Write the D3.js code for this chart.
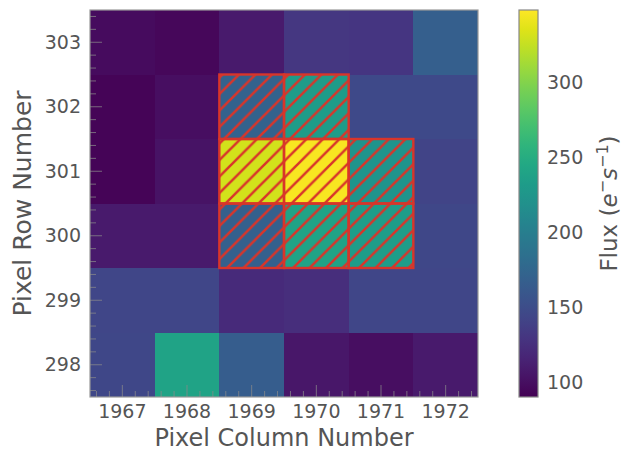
<!DOCTYPE html>
<html>
<head>
<meta charset="utf-8">
<script src="https://cdn.jsdelivr.net/npm/d3@7"></script>
<style>
  html, body { margin: 0; padding: 0; background: #fff; }
  svg { display: block; font-family: "DejaVu Sans", sans-serif; }
</style>
</head>
<body>
<svg id="chart" width="621" height="453"></svg>
<script>
// Pixel grid of a target pixel file: columns, rows and flux (e-/s)
const columns = [1967, 1968, 1969, 1970, 1971, 1972];
const rows = [303, 302, 301, 300, 299, 298];
// flux[rowIndex][colIndex], rows ordered as in `rows`
const flux = [
  [ 98,  95, 108, 131, 130, 167],
  [ 93, 100, 170, 232, 147, 147],
  [ 93, 103, 330, 345, 224, 142],
  [108, 108, 168, 240, 233, 145],
  [144, 144, 121, 124, 144, 144],
  [145, 240, 165, 106, 100, 108]
];
// Pixels in the photometric aperture [column, row]
const aperture = [
  [1969, 302], [1970, 302],
  [1969, 301], [1970, 301], [1971, 301],
  [1969, 300], [1970, 300], [1971, 300]
];
const colorTicks = [100, 150, 200, 250, 300];
const fluxRange = [90, 348];

const svg = d3.select("#chart");
const textColor = "#555";
const hatchRed = "#d8352a";

const plot = { x0: 90, x1: 478, y0: 10, y1: 397 };

const x = d3.scaleLinear()
  .domain([d3.min(columns) - 0.5, d3.max(columns) + 0.5])
  .range([plot.x0, plot.x1]);
const y = d3.scaleLinear()
  .domain([d3.min(rows) - 0.5, d3.max(rows) + 0.5])
  .range([plot.y1, plot.y0]);
const color = d3.scaleSequential(d3.interpolateViridis).domain(fluxRange);

// Hatch pattern for the aperture
const defs = svg.append("defs");
const hs = 16.5;
defs.append("pattern")
  .attr("id", "hatch")
  .attr("patternUnits", "userSpaceOnUse")
  .attr("width", hs).attr("height", hs)
  .append("path")
  .attr("d", `M${-hs / 4},${hs / 4} L${hs / 4},${-hs / 4} M0,${hs} L${hs},0 M${hs * 0.75},${hs * 1.25} L${hs * 1.25},${hs * 0.75}`)
  .attr("stroke", hatchRed)
  .attr("stroke-width", 2.5)
  .attr("fill", "none");

// Heatmap cells
const cells = [];
rows.forEach((r, ri) => columns.forEach((c, ci) => cells.push({ c, r, v: flux[ri][ci] })));

svg.append("g").selectAll("rect")
  .data(cells)
  .join("rect")
  .attr("x", d => x(d.c - 0.5))
  .attr("y", d => y(d.r + 0.5))
  .attr("width", d => x(d.c + 0.5) - x(d.c - 0.5))
  .attr("height", d => y(d.r - 0.5) - y(d.r + 0.5))
  .attr("fill", d => color(d.v))
  .attr("shape-rendering", "crispEdges");

// Aperture overlay
svg.append("g").selectAll("rect")
  .data(aperture)
  .join("rect")
  .attr("x", d => x(d[0] - 0.5))
  .attr("y", d => y(d[1] + 0.5))
  .attr("width", d => x(d[0] + 0.5) - x(d[0] - 0.5))
  .attr("height", d => y(d[1] - 0.5) - y(d[1] + 0.5))
  .attr("fill", "url(#hatch)")
  .attr("stroke", hatchRed)
  .attr("stroke-width", 2.4);

// Inward ticks (major at integers, minor every 0.2)
const tickG = svg.append("g").attr("stroke", "#8a8a8a").attr("stroke-opacity", 0.75).attr("stroke-width", 1);
const minorX = d3.range(0, 31).map(i => x.domain()[0] + 0.1 + i * 0.2).filter(v => v < x.domain()[1] && Math.abs(v - Math.round(v)) > 0.05);
const minorY = d3.range(0, 31).map(i => y.domain()[0] + 0.1 + i * 0.2).filter(v => v < y.domain()[1] && Math.abs(v - Math.round(v)) > 0.05);
tickG.selectAll(".mjx").data(columns).join("line")
  .attr("x1", d => x(d)).attr("x2", d => x(d))
  .attr("y1", plot.y1).attr("y2", plot.y1 - 12);
tickG.selectAll(".mnx").data(minorX).join("line")
  .attr("x1", d => x(d)).attr("x2", d => x(d))
  .attr("y1", plot.y1).attr("y2", plot.y1 - 6);
tickG.selectAll(".mjy").data(rows).join("line")
  .attr("y1", d => y(d)).attr("y2", d => y(d))
  .attr("x1", plot.x0).attr("x2", plot.x0 + 12);
tickG.selectAll(".mny").data(minorY).join("line")
  .attr("y1", d => y(d)).attr("y2", d => y(d))
  .attr("x1", plot.x0).attr("x2", plot.x0 + 6);

// Frame
svg.append("rect")
  .attr("x", plot.x0).attr("y", plot.y0)
  .attr("width", plot.x1 - plot.x0).attr("height", plot.y1 - plot.y0)
  .attr("fill", "none").attr("stroke", "#999").attr("stroke-width", 1.2);

// Tick labels
svg.append("g").selectAll("text").data(columns).join("text")
  .attr("x", d => x(d)).attr("y", 418)
  .attr("text-anchor", "middle")
  .attr("font-size", 19).attr("fill", textColor)
  .text(d => d);
svg.append("g").selectAll("text").data(rows).join("text")
  .attr("x", 81).attr("y", d => y(d))
  .attr("dy", "0.35em")
  .attr("text-anchor", "end")
  .attr("font-size", 19).attr("fill", textColor)
  .text(d => d);

// Axis titles
svg.append("text")
  .attr("x", (plot.x0 + plot.x1) / 2).attr("y", 446)
  .attr("text-anchor", "middle")
  .attr("font-size", 24).attr("fill", textColor)
  .text("Pixel Column Number");
svg.append("text")
  .attr("transform", `translate(31,${(plot.y0 + plot.y1) / 2}) rotate(-90)`)
  .attr("text-anchor", "middle")
  .attr("font-size", 25).attr("fill", textColor)
  .text("Pixel Row Number");

// Colorbar
const cb = { x0: 519, x1: 538 };
const cy = d3.scaleLinear().domain(fluxRange).range([plot.y1, plot.y0]);
const grad = defs.append("linearGradient")
  .attr("id", "cbgrad")
  .attr("x1", 0).attr("y1", 1).attr("x2", 0).attr("y2", 0);
d3.range(0, 1.0001, 0.05).forEach(t => {
  grad.append("stop")
    .attr("offset", t)
    .attr("stop-color", color(fluxRange[0] + t * (fluxRange[1] - fluxRange[0])));
});
svg.append("rect")
  .attr("x", cb.x0).attr("y", cy(fluxRange[1]))
  .attr("width", cb.x1 - cb.x0).attr("height", cy(fluxRange[0]) - cy(fluxRange[1]))
  .attr("fill", "url(#cbgrad)")
  .attr("stroke", "#888").attr("stroke-width", 1.2);
svg.append("g").selectAll("text").data(colorTicks).join("text")
  .attr("x", 547).attr("y", d => cy(d))
  .attr("dy", "0.35em")
  .attr("font-size", 19).attr("fill", textColor)
  .text(d => d);

// Colorbar label: Flux (e⁻s⁻¹)
const lab = svg.append("text")
  .attr("transform", `translate(617,${(plot.y0 + plot.y1) / 2}) rotate(-90)`)
  .attr("text-anchor", "middle")
  .attr("font-size", 23).attr("fill", textColor);
lab.append("tspan").text("Flux (");
lab.append("tspan").attr("font-style", "italic").text("e");
lab.append("tspan").attr("font-size", 16).attr("dy", -9).text("\u2212");
lab.append("tspan").attr("font-style", "italic").attr("dy", 9).text("s");
lab.append("tspan").attr("font-size", 16).attr("dy", -9).text("\u22121");
lab.append("tspan").attr("dy", 9).text(")");
</script>
</body>
</html>
